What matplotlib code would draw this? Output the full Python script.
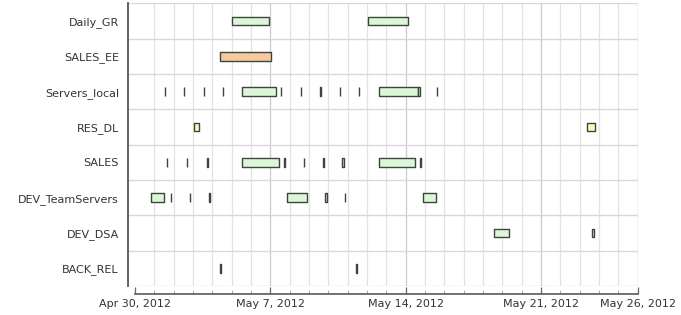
#!/usr/bin/env python
"""Gantt-style timeline of job runs per server group."""

import numpy as np
import matplotlib
matplotlib.use('Agg')
import matplotlib.pyplot as plt
import matplotlib.dates as mdates

# rows, top to bottom
rows = ['Daily_GR', 'SALES_EE', 'Servers_local', 'RES_DL', 'SALES',
        'DEV_TeamServers', 'DEV_DSA', 'BACK_REL']

# (start, end) of each run, per row
daily_gr = [('2012-05-05 00:00', '2012-05-06 23:00'),
            ('2012-05-12 00:45', '2012-05-14 02:30')]
sales_ee = [('2012-05-04 09:30', '2012-05-07 00:45')]
servers_local = [('2012-05-01 13:00', '2012-05-01 13:20'),
                 ('2012-05-02 13:00', '2012-05-02 13:20'),
                 ('2012-05-03 13:30', '2012-05-03 13:50'),
                 ('2012-05-04 13:00', '2012-05-04 13:20'),
                 ('2012-05-05 13:30', '2012-05-07 07:00'),
                 ('2012-05-07 13:30', '2012-05-07 13:50'),
                 ('2012-05-08 14:00', '2012-05-08 14:20'),
                 ('2012-05-09 14:20', '2012-05-09 14:40'),
                 ('2012-05-10 14:00', '2012-05-10 14:20'),
                 ('2012-05-11 14:20', '2012-05-11 14:40'),
                 ('2012-05-12 14:30', '2012-05-14 15:00'),
                 ('2012-05-14 15:00', '2012-05-14 18:15'),
                 ('2012-05-15 15:00', '2012-05-15 15:20')]
res_dl = [('2012-05-03 01:30', '2012-05-03 07:30'),
          ('2012-05-23 09:30', '2012-05-23 19:00')]
sales = [('2012-05-01 16:00', '2012-05-01 16:20'),
         ('2012-05-02 16:50', '2012-05-02 17:10'),
         ('2012-05-03 17:45', '2012-05-03 18:05'),
         ('2012-05-05 13:30', '2012-05-07 11:15'),
         ('2012-05-07 17:00', '2012-05-07 18:30'),
         ('2012-05-08 17:45', '2012-05-08 18:05'),
         ('2012-05-09 18:00', '2012-05-09 18:20'),
         ('2012-05-10 17:30', '2012-05-10 19:00'),
         ('2012-05-12 14:30', '2012-05-14 11:15'),
         ('2012-05-14 18:15', '2012-05-14 18:35')]
dev_teamservers = [('2012-04-30 19:30', '2012-05-01 12:00'),
                   ('2012-05-01 20:30', '2012-05-01 20:50'),
                   ('2012-05-02 20:30', '2012-05-02 20:50'),
                   ('2012-05-03 20:00', '2012-05-03 21:30'),
                   ('2012-05-07 20:30', '2012-05-08 21:20'),
                   ('2012-05-09 20:30', '2012-05-09 22:00'),
                   ('2012-05-10 21:00', '2012-05-10 21:20'),
                   ('2012-05-14 21:30', '2012-05-15 13:40')]
dev_dsa = [('2012-05-18 14:10', '2012-05-19 08:00'),
           ('2012-05-23 16:00', '2012-05-23 17:30')]
back_rel = [('2012-05-04 09:00', '2012-05-04 10:30'),
            ('2012-05-11 10:50', '2012-05-11 11:10')]

runs = [daily_gr, sales_ee, servers_local, res_dl, sales,
        dev_teamservers, dev_dsa, back_rel]
row_colors = ['#dcf6d8', '#f8c99c', '#dcf6d8', '#fafac2', '#dcf6d8',
              '#dcf6d8', '#dcf6d8', '#dcf6d8']

# axis ticks
x_tick_dates = ['2012-04-30', '2012-05-07', '2012-05-14', '2012-05-21',
                '2012-05-26']
x_tick_labels = ['Apr 30, 2012', 'May 7, 2012', 'May 14, 2012',
                 'May 21, 2012', 'May 26, 2012']


def num(s):
    """Convert a date string to a matplotlib date number."""
    return mdates.date2num(np.datetime64(s.replace(' ', 'T')))


def main():
    """Main program called during execution."""

    # initialize figure
    fig = plt.figure(figsize=(6.81, 3.15), dpi=100)
    ax = fig.add_axes([128/681, 1-286/315, 509.5/681, 282.7/315])

    x0 = num('2012-04-30')
    x1 = num('2012-05-26')

    # day and row grid (no line on the first day)
    for d in np.arange(x0 + 1, x1 + 0.5):
        major = (d - x0) % 7 == 0
        ax.axvline(d, color='#cbcbcb' if major else '#e2e2e2', lw=0.9,
                   zorder=0)
    ax.axvline(x1, color='#d0d0d0', lw=1.0, zorder=0)
    for i in range(len(rows) + 1):
        ax.axhline(i, color='#d8d8d8', lw=1.0, zorder=0)

    # draw runs
    h = 0.25
    for i, (spans, fc) in enumerate(zip(runs, row_colors)):
        xr = [(num(a), num(b) - num(a)) for a, b in spans]
        ax.broken_barh(xr, (i + 0.5 - h/2, h), facecolors=fc,
                       edgecolors='#3d463d', linewidth=1.0, zorder=3)

    # axes limits and ticks
    ax.set_xlim(x0 - 0.36, x1)
    ax.set_ylim(len(rows), 0)
    ax.set_yticks(np.arange(len(rows)) + 0.5)
    ax.set_yticklabels(rows)
    ax.tick_params(axis='y', length=0, pad=6.5, labelsize=8,
                   labelcolor='#333333')
    ax.set_xticks([num(s) for s in x_tick_dates])
    ax.set_xticklabels(x_tick_labels)
    ax.set_xticks(np.arange(x0, x1 + 0.5), minor=True)
    ax.tick_params(axis='x', which='major', direction='in', length=5,
                   width=0.9, color='#666666', pad=3.5, labelsize=8,
                   labelcolor='#333333')
    ax.tick_params(axis='x', which='minor', direction='in', length=3,
                   width=0.7, color='#aaaaaa')

    # spines
    for side in ['top', 'right']:
        ax.spines[side].set_visible(False)
    ax.spines['left'].set_color('#555555')
    ax.spines['left'].set_linewidth(1.3)
    ax.spines['bottom'].set_position(('outward', 6))
    ax.spines['bottom'].set_bounds(x0, x1)
    ax.spines['bottom'].set_color('#666666')
    ax.spines['bottom'].set_linewidth(1.3)

    fig.savefig('out.png', dpi=100)


if __name__ == '__main__':
    main()
